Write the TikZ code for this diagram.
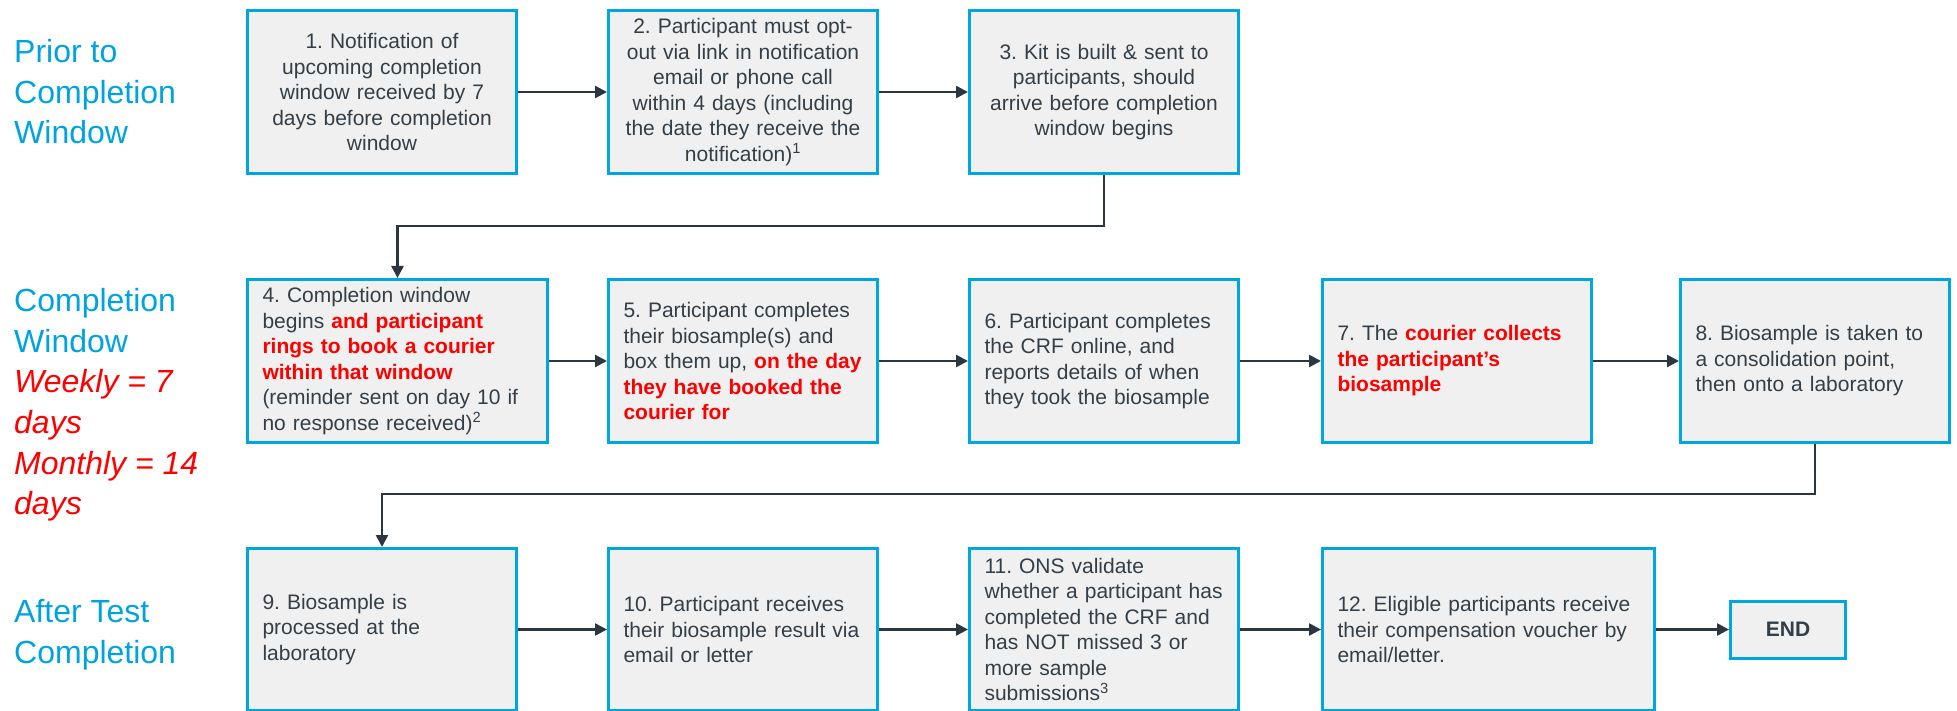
\documentclass[tikz,border=0pt]{standalone}
\usepackage{fontspec}
\setmainfont{Liberation Sans}
\usetikzlibrary{arrows.meta}
\definecolor{bblue}{HTML}{00A6E0}
\definecolor{bfill}{HTML}{F0F0F0}
\definecolor{tdark}{HTML}{333F48}
\definecolor{adark}{HTML}{2B3640}
\definecolor{lblue}{HTML}{00A3E0}
\definecolor{rred}{HTML}{FF0000}
\newcommand{\hl}[1]{\textbf{\textcolor{rred}{#1}}}
\frenchspacing
\tikzset{
  stepbox/.style={draw=bblue, line width=3pt, fill=bfill, text=tdark,
    font=\fontsize{21}{25.5}\selectfont, inner sep=0pt, minimum height=163pt, anchor=north west},
  lbox/.style={stepbox, align=left, minimum width=269pt, text width=239pt},
  cbox/.style={stepbox, align=center, minimum width=269pt, text width=259pt},
  conn/.style={draw=adark, line width=2.5pt, -{Triangle[length=12pt,width=12pt]}},
  lab/.style={anchor=north west, inner sep=0pt, align=left, text=lblue,
    font=\fontsize{32}{40.7}\selectfont}
}
\begin{document}
\begin{tikzpicture}[x=1pt,y=-1pt]
\useasboundingbox (0,0) rectangle (1957,711);
% stage labels
\node[lab] (l1) at (14,39) {Prior to\\Completion\\Window};
\node[lab] (l2) at (14,288) {Completion\\Window\\\textcolor{rred}{\itshape Weekly = 7}\\\textcolor{rred}{\itshape days}\\\textcolor{rred}{\itshape Monthly = 14}\\\textcolor{rred}{\itshape days}};
\node[lab] (l3) at (14,599) {After Test\\Completion};
% row 1
\node[cbox] (b1) at (246,9) {1. Notification of\\upcoming completion\\window received by 7\\days before completion\\window};
\node[cbox] (b2) at (607,9) {2. Participant must opt-\\out via link in notification\\email or phone call\\within 4 days (including\\the date they receive the\\notification)\textsuperscript{1}};
\node[cbox] (b3) at (968,9) {3. Kit is built \& sent to\\participants, should\\arrive before completion\\window begins};
% row 2
\node[lbox, minimum width=300pt, text width=270pt] (b4) at (246,278) {4. Completion window\\begins \hl{and participant}\\\hl{rings to book a courier}\\\hl{within that window}\\(reminder sent on day 10 if\\no response received)\textsuperscript{2}};
\node[lbox] (b5) at (607,278) {5. Participant completes\\their biosample(s) and\\box them up, \hl{on the day}\\\hl{they have booked the}\\\hl{courier for}};
\node[lbox] (b6) at (968,278) {6. Participant completes\\the CRF online, and\\reports details of when\\they took the biosample};
\node[lbox] (b7) at (1321,278) {7. The \hl{courier collects}\\\hl{the participant’s}\\\hl{biosample}};
\node[lbox] (b8) at (1679,278) {8. Biosample is taken to\\a consolidation point,\\then onto a laboratory};
% row 3
\node[lbox, minimum height=162pt] (b9) at (246,547) {9. Biosample is\\processed at the\\laboratory};
\node[lbox, minimum height=162pt] (b10) at (607,547) {10. Participant receives\\their biosample result via\\email or letter};
\node[lbox, minimum height=162pt] (b11) at (968,547) {11. ONS validate\\whether a participant has\\completed the CRF and\\has NOT missed 3 or\\more sample\\submissions\textsuperscript{3}};
\node[lbox, minimum height=162pt, minimum width=332pt, text width=302pt] (b12) at (1321,547) {12. Eligible participants receive\\their compensation voucher by\\email/letter.};
\node[stepbox, anchor=west, align=center, minimum width=115pt, minimum height=57pt,
  font=\bfseries\fontsize{21}{25}\selectfont] (end) at ([xshift=73pt]b12.east) {END};
% connectors
\coordinate (k1) at (0,226);
\coordinate (k2) at (0,494);
\draw[conn] (b1.east) -- (b2.west);
\draw[conn] (b2.east) -- (b3.west);
\draw[conn] (b3.south) -- (b3.south |- k1) -- (b4.north |- k1) -- (b4.north);
\draw[conn] (b4.east) -- (b5.west);
\draw[conn] (b5.east) -- (b6.west);
\draw[conn] (b6.east) -- (b7.west);
\draw[conn] (b7.east) -- (b8.west);
\draw[conn] (b8.south) -- (b8.south |- k2) -- (b9.north |- k2) -- (b9.north);
\draw[conn] (b9.east) -- (b10.west);
\draw[conn] (b10.east) -- (b11.west);
\draw[conn] (b11.east) -- (b12.west);
\draw[conn] (b12.east) -- (end.west);
\end{tikzpicture}
\end{document}
